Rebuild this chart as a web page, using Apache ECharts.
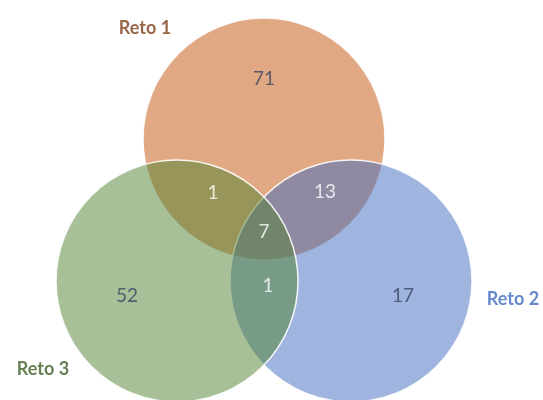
<!DOCTYPE html>
<html>
<head>
<meta charset="UTF-8">
<title>Retos</title>
<script type="text/javascript" src="https://cdn.jsdelivr.net/npm/echarts@6/dist/echarts.min.js"></script>
<style>
  html, body { margin: 0; padding: 0; background: #fff; }
  #main { width: 543px; height: 400px; }
</style>
</head>
<body>
<div id="main"></div>
<script type="text/javascript">
// conjuntos y conteos por region
var sets = ['Reto 1', 'Reto 2', 'Reto 3'];
var regionNames = ['1', '2', '3', '1∩3', '1∩2', '2∩3', '1∩2∩3'];
var regionValues = [71, 17, 52, 1, 13, 1, 7];

// disposicion (unidades de pantalla)
var setColors = ['#C15407', '#3F6BBF', '#518131'];
var labelColors = ['#7F401A', '#3F6BBF', '#3F5F26'];
var circleCenters = [[264, 139], [351, 281], [177, 281]];
var circleRadius = 121;
var setLabelPos = [[145, 28], [513, 299], [43, 369]];
var regionPos = [[264, 79], [403, 296], [127, 296], [213, 193], [325, 192], [268, 286], [264, 232]];
var darkNumbers = ['1', '2', '3'];

var chart = echarts.init(document.getElementById('main'));

function hexToRgba(hex, a) {
  var r = parseInt(hex.substr(1, 2), 16), g = parseInt(hex.substr(3, 2), 16), b = parseInt(hex.substr(5, 2), 16);
  return 'rgba(' + r + ',' + g + ',' + b + ',' + a + ')';
}

var circleData = sets.map(function (s, i) {
  return { name: s, value: circleCenters[i], color: setColors[i] };
});

var regionData = regionNames.map(function (r, i) {
  var dark = darkNumbers.indexOf(r) >= 0;
  return {
    name: r,
    value: regionPos[i].concat(regionValues[i]),
    label: { color: dark ? '#3B4560' : '#ffffff' }
  };
});

var setLabelData = sets.map(function (s, i) {
  return { name: s, value: setLabelPos[i], label: { color: labelColors[i] } };
});

var option = {
  animation: false,
  grid: { left: 0, right: 0, top: 0, bottom: 0 },
  xAxis: { type: 'value', min: 0, max: 543, show: false },
  yAxis: { type: 'value', min: 0, max: 400, inverse: true, show: false },
  series: [
    {
      type: 'custom',
      data: circleData,
      renderItem: function (params, api) {
        var c = api.coord([api.value(0), api.value(1)]);
        var r = api.size([circleRadius, 0])[0];
        var col = circleData[params.dataIndex].color;
        return {
          type: 'circle',
          shape: { cx: c[0], cy: c[1], r: r },
          style: { fill: hexToRgba(col, 0.5), stroke: 'rgba(255,255,255,0.9)', lineWidth: 1.5 }
        };
      },
      z: 1
    },
    {
      type: 'scatter',
      symbolSize: 0,
      data: regionData,
      label: {
        show: true,
        position: 'inside',
        fontFamily: 'Lato',
        fontSize: 19,
        formatter: function (p) { return p.value[2]; }
      },
      z: 3
    },
    {
      type: 'scatter',
      symbolSize: 0,
      data: setLabelData,
      label: {
        show: true,
        position: 'inside',
        fontFamily: 'Lato',
        fontWeight: 'bold',
        fontSize: 18,
        formatter: '{b}'
      },
      z: 3
    }
  ]
};
chart.setOption(option);
</script>
</body>
</html>
